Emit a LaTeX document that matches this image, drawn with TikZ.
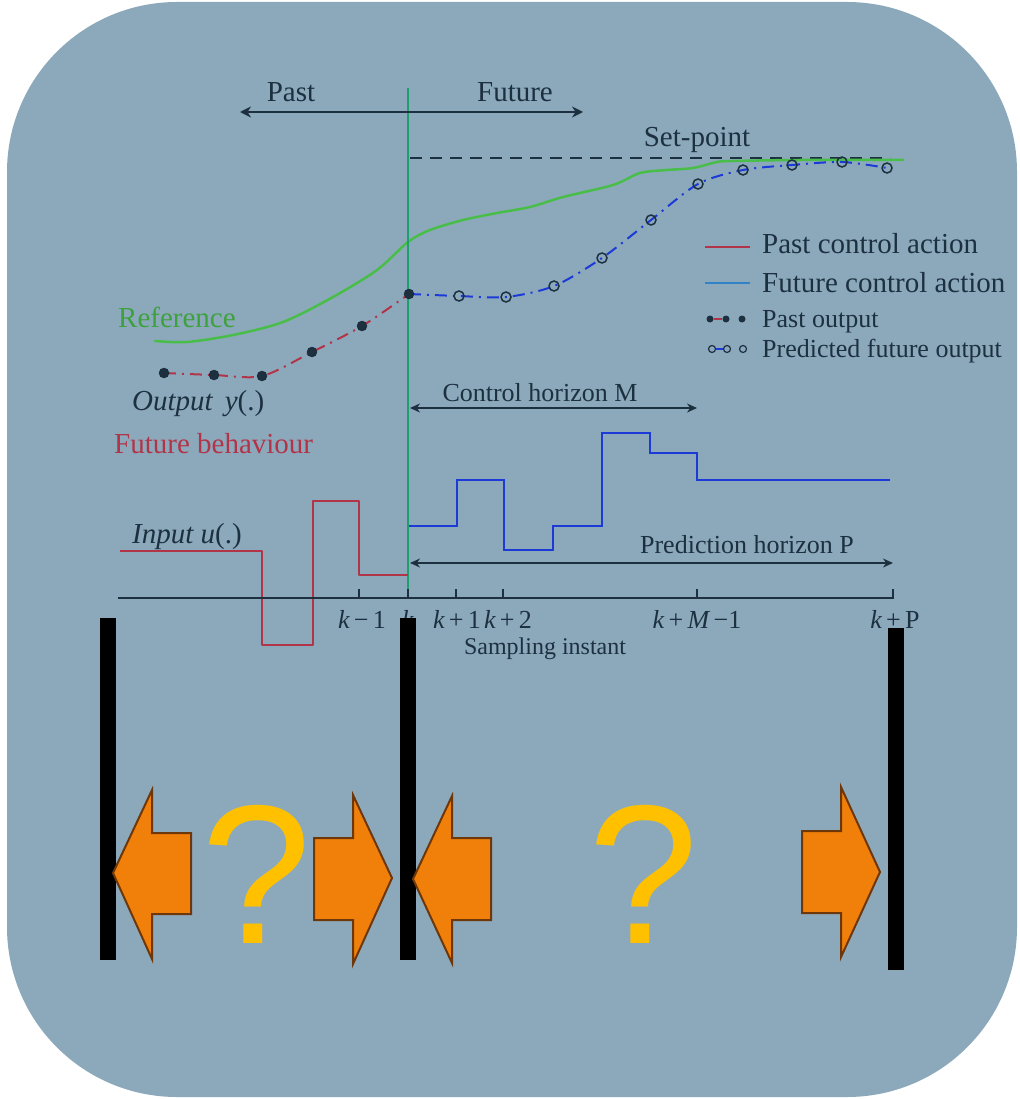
\documentclass[tikz,border=0pt]{standalone}
\usepackage{fontspec}
\setmainfont{Liberation Serif}
\newfontfamily\qfont{Liberation Sans}
\usetikzlibrary{arrows.meta}
\definecolor{bg}{RGB}{140,169,188}
\definecolor{ink}{RGB}{28,48,64}
\definecolor{refgreen}{RGB}{72,190,72}
\definecolor{vgreen}{RGB}{30,160,110}
\definecolor{pastred}{RGB}{178,52,72}
\definecolor{futblue}{RGB}{28,58,215}
\definecolor{legblue}{RGB}{50,130,200}
\definecolor{orangef}{RGB}{240,128,10}
\definecolor{oranged}{RGB}{110,55,10}
\definecolor{qyellow}{RGB}{255,192,0}
\newcommand{\kl}[1]{{\itshape k}\,#1}
\tikzset{
  lbl/.style={text=ink,inner sep=0pt,anchor=base,font=\fontsize{29}{31}\selectfont},
  lblw/.style={lbl,anchor=base west},
  hlbl/.style={lbl,font=\fontsize{26}{28}\selectfont},
  axl/.style={lbl,font=\fontsize{26}{28}\selectfont},
  dblarrow/.style={draw=ink,line width=2pt,{Stealth[length=11pt,width=11pt]}-{Stealth[length=11pt,width=11pt]}},
  harrow/.style={draw=ink,line width=1.6pt,{Stealth[length=10pt,width=9pt]}-{Stealth[length=10pt,width=9pt]}},
  pastdot/.style={circle,fill=ink,draw=ink!80!black,inner sep=0pt,minimum size=10pt},
  futdot/.style={circle,draw=ink,line width=1.5pt,inner sep=0pt,minimum size=10pt},
  orangearrow/.style={fill=orangef,draw=oranged,line width=2pt,line join=miter},
  blackbar/.style={fill=black},
  qmark/.style={text=qyellow,inner sep=0pt,anchor=base,font=\qfont\fontsize{198}{198}\selectfont},
}
\begin{document}
\begin{tikzpicture}[x=1pt,y=-1pt]
\useasboundingbox (0,0) rectangle (1019,1099);
\fill[bg,rounded corners=170pt] (7,2) rectangle (1017,1097);

% set-point
\draw[ink,line width=2pt,dash pattern=on 12pt off 8pt] (410,158) -- (890,158);
\node[lbl] (setpoint) at (697,147) {Set-point};

% reference curve
\draw[refgreen,line width=2.5pt,line cap=round] plot[smooth,tension=0.5] coordinates {
 (155,341) (187,342) (233,335) (283,322) (333,297) (377,270) (408,242) (430,230) (463,220)
 (497,213) (530,207) (563,197) (613,185) (640,173) (667,170) (693,168) (717,162) (733,161) (800,160) (903,160)};

% vertical line at k
\draw[vgreen,line width=1.6pt] (408,88) -- (408,598);

% past / future arrow
\coordinate (pf1) at (240,112);
\coordinate (pf2) at (583,112);
\draw[dblarrow] (pf1) -- (pf2);
\node[lbl] (past) at (291,102) {Past};
\node[lbl] (future) at (515,102) {Future};

% past output
\draw[pastred,line width=2pt,dash pattern=on 12pt off 6pt on 2pt off 6pt] plot[smooth,tension=0.5] coordinates {
 (164,373) (214,375) (262,376) (312,352) (362,326) (409,294)};
% predicted output
\draw[futblue,line width=2pt,dash pattern=on 12pt off 6pt on 2pt off 6pt] plot[smooth,tension=0.5] coordinates {
 (409,294) (459,296) (506,297) (554,286) (602,258) (651,220) (698,184) (743,170) (792,165) (842,162) (887,168)};
\foreach \x/\y [count=\i] in {164/373,214/375,262/376,312/352,362/326,409/294}
  \node[pastdot] (po\i) at (\x,\y) {};
\foreach \x/\y [count=\i] in {459/296,506/297,554/286,602/258,651/220,698/184,743/170,792/165,842/162,887/168}
  \node[futdot] (fo\i) at (\x,\y) {};

% legend
\draw[pastred,line width=2pt] (705,247) -- (750,247);
\draw[legblue,line width=2pt] (705,283) -- (750,283);
\node[lblw] (lg1) at (762,253) {Past control action};
\node[lblw] (lg2) at (762,292) {Future control action};
\node[lblw,font=\fontsize{26}{28}\selectfont] (lg3) at (762,327) {Past output};
\node[lblw,font=\fontsize{26}{28}\selectfont] (lg4) at (762,357) {Predicted future output};
\node[circle,fill=ink,inner sep=0pt,minimum size=7pt] (lp1) at (710,319) {};
\node[circle,fill=ink,inner sep=0pt,minimum size=7pt] (lp2) at (726,319) {};
\node[circle,fill=ink,inner sep=0pt,minimum size=7pt] (lp3) at (742,319) {};
\draw[pastred,line width=1.8pt] (lp1) -- (lp2);
\node[circle,draw=ink,line width=1.2pt,inner sep=0pt,minimum size=7pt] (lf1) at (712,349) {};
\node[circle,draw=ink,line width=1.2pt,inner sep=0pt,minimum size=7pt] (lf2) at (727,349) {};
\node[circle,draw=ink,line width=1.2pt,inner sep=0pt,minimum size=7pt] (lf3) at (743,349) {};
\draw[futblue,line width=1.8pt] (lf1) -- (lf2);

% left labels
\node[lblw,text=refgreen!85!black] (reflbl) at (118,327) {Reference};
\node[lblw] (outlbl) at (132,410) {\itshape Output\, y\/\upshape(.)};
\node[lblw,text=pastred] (fblbl) at (114,453) {Future behaviour};
\node[lblw] (inlbl) at (132,543) {\itshape Input u\/\upshape(.)};

% control horizon
\coordinate (ch1) at (410,408);
\coordinate (ch2) at (697,408);
\draw[harrow] (ch1) -- (ch2);
\node[hlbl] (chlbl) at (540,401) {Control horizon M};

% input past (red)
\draw[pastred,line width=2pt,line join=round] (120,551) -- (262,551) -- (262,645) -- (313,645) -- (313,501) -- (359,501) -- (359,575) -- (408,575);
% input future (blue)
\draw[futblue,line width=2.2pt] (409,526) -- (457,526) -- (457,480) -- (504,480) -- (504,550) -- (553,550) -- (553,526) -- (602,526) -- (602,433) -- (650,433) -- (650,453) -- (697,453) -- (697,480) -- (890,480);

% prediction horizon
\coordinate (ph1) at (410,563);
\coordinate (ph2) at (893,563);
\draw[harrow] (ph1) -- (ph2);
\node[hlbl] (phlbl) at (747,553) {Prediction horizon P};

% axis
\coordinate (ax1) at (118,598);
\coordinate (ax2) at (894,598);
\draw[ink,line width=1.6pt] (ax1) -- (ax2);
\foreach \x in {359,408,456,503,697,893}
  \draw[ink,line width=1.6pt] (\x,598) -- (\x,589);
\node[axl] (t1) at (362,628) {\kl{−\,1}};
\node[axl] (t2) at (408,628) {\itshape k};
\node[axl] (t3) at (457,628) {\kl{+\,1}};
\node[axl] (t4) at (508,628) {\kl{+\,2}};
\node[axl] (t5) at (697,628) {\kl{+\,{\itshape M}\,−1}};
\node[axl] (t6) at (895,628) {\kl{+\,P}};
\node[lbl,font=\fontsize{24}{26}\selectfont] (samp) at (545,654) {Sampling instant};

% black bars
\fill[blackbar] (100,618) rectangle (116,960);
\fill[blackbar] (400,618) rectangle (416,960);
\fill[blackbar] (888,628) rectangle (904,970);

% orange arrows
\draw[orangearrow] (113,873) -- (152,790) -- (152,833) -- (191,833) -- (191,914) -- (152,914) -- (152,959) -- cycle;
\draw[orangearrow] (392,878) -- (353,795) -- (353,838) -- (314,838) -- (314,920) -- (353,920) -- (353,964) -- cycle;
\draw[orangearrow] (413,879) -- (452,796) -- (452,838) -- (491,838) -- (491,920) -- (452,920) -- (452,963) -- cycle;
\draw[orangearrow] (880,872) -- (841,787) -- (841,831) -- (802,831) -- (802,913) -- (841,913) -- (841,957) -- cycle;

% question marks
\node[qmark] (q1) at (257,943) {?};
\node[qmark] (q2) at (644,943) {?};
\end{tikzpicture}
\end{document}
